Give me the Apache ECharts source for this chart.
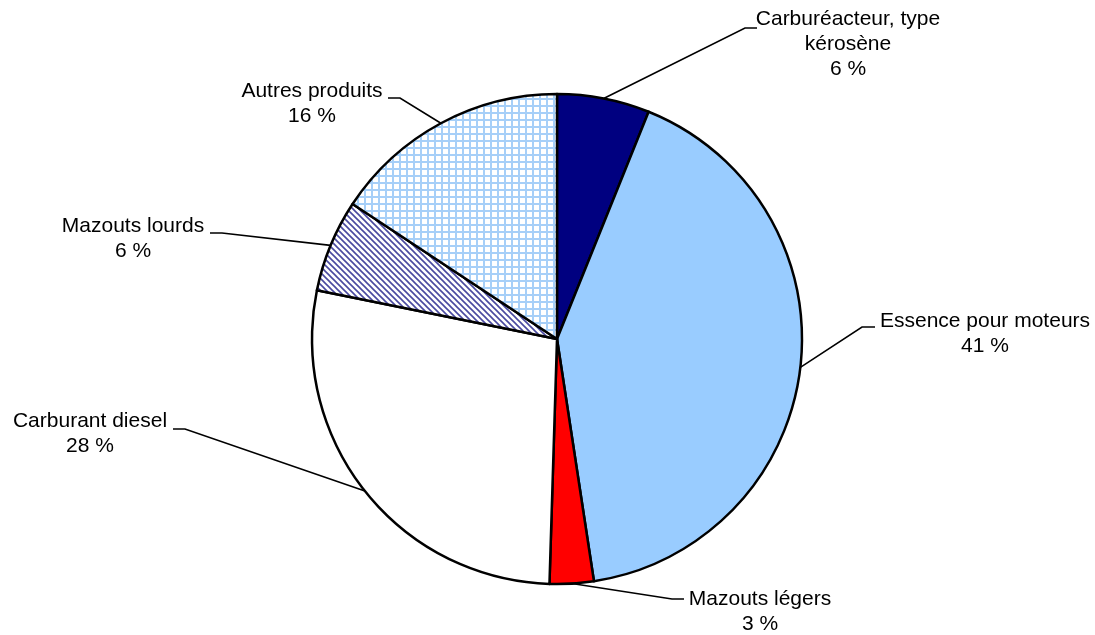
<!DOCTYPE html>
<html>
<head>
<meta charset="utf-8">
<script src="https://cdn.jsdelivr.net/npm/echarts@6/dist/echarts.min.js"></script>
<style>
  html, body { margin: 0; padding: 0; background: #fff; }
  #main { width: 1095px; height: 635px; }
</style>
</head>
<body>
<div id="main"></div>
<script>
// categories and shares (%)
var names = ['Carburéacteur, type\nkérosène', 'Essence pour moteurs', 'Mazouts légers',
             'Carburant diesel', 'Mazouts lourds', 'Autres produits'];
var shares = [6.1, 41.49, 2.9, 27.7, 6.1, 15.71];

// label anchor (text center x, top y) and leader elbow / end points
var labelPos = [
  {x: 848, y: 7,   elbow: [745, 28],  end: [757, 28]},
  {x: 985, y: 309, elbow: [862, 327], end: [875, 327]},
  {x: 760, y: 587, elbow: [672, 599], end: [684, 599]},
  {x: 90,  y: 409, elbow: [185, 429], end: [173, 429]},
  {x: 133, y: 214, elbow: [222, 233], end: [210, 233]},
  {x: 312, y: 79,  elbow: [400, 98],  end: [388, 98]}
];

// hatch pattern for "Mazouts lourds"
function hatchPattern() {
  var c = document.createElement('canvas');
  c.width = 6; c.height = 6;
  var g = c.getContext('2d');
  g.fillStyle = '#fff';
  g.fillRect(0, 0, 6, 6);
  g.strokeStyle = '#4a4aa0';
  g.lineWidth = 1.6;
  g.beginPath();
  g.moveTo(-1, -1); g.lineTo(7, 7);
  g.moveTo(-4, 2); g.lineTo(1, 7);
  g.moveTo(5, -1); g.lineTo(10, 4);
  g.stroke();
  return c;
}
// grid pattern for "Autres produits"
function gridPattern() {
  var c = document.createElement('canvas');
  c.width = 7; c.height = 7;
  var g = c.getContext('2d');
  g.fillStyle = '#fff';
  g.fillRect(0, 0, 7, 7);
  g.fillStyle = '#a6cff8';
  g.fillRect(0, 0, 7, 2);
  g.fillRect(0, 0, 2, 7);
  return c;
}

var colors = ['#000080', '#99ccff', '#ff0000', '#ffffff',
              {image: hatchPattern(), repeat: 'repeat'},
              {image: gridPattern(), repeat: 'repeat'}];

var data = [];
for (var i = 0; i < names.length; i++) {
  data.push({name: names[i], value: shares[i], itemStyle: {color: colors[i]}});
}

var myChart = echarts.init(document.getElementById('main'));
var option = {
  animation: false,
  backgroundColor: '#fff',
  series: [{
    type: 'pie',
    center: [557, 339],
    radius: 245,
    startAngle: 90,
    clockwise: true,
    avoidLabelOverlap: false,
    emphasis: {disabled: true},
    itemStyle: {borderColor: '#000', borderWidth: 2.5},
    label: {
      show: true,
      position: 'outside',
      color: '#000',
      fontFamily: 'Liberation Sans, Arial, sans-serif',
      fontSize: 21,
      lineHeight: 25,
      align: 'center',
      formatter: function (p) {
        return p.name + '\n' + Math.round(p.percent) + ' %';
      }
    },
    labelLine: {
      show: true,
      length: 20,
      length2: 10,
      lineStyle: {color: '#000', width: 1.6}
    },
    labelLayout: function (params) {
      var lp = labelPos[params.dataIndex];
      var start = params.labelLinePoints ? params.labelLinePoints[0] : lp.elbow;
      return {
        x: lp.x,
        y: lp.y,
        align: 'center',
        verticalAlign: 'top',
        labelLinePoints: [start, lp.elbow, lp.end]
      };
    },
    data: data
  }]
};
myChart.setOption(option);
</script>
</body>
</html>
